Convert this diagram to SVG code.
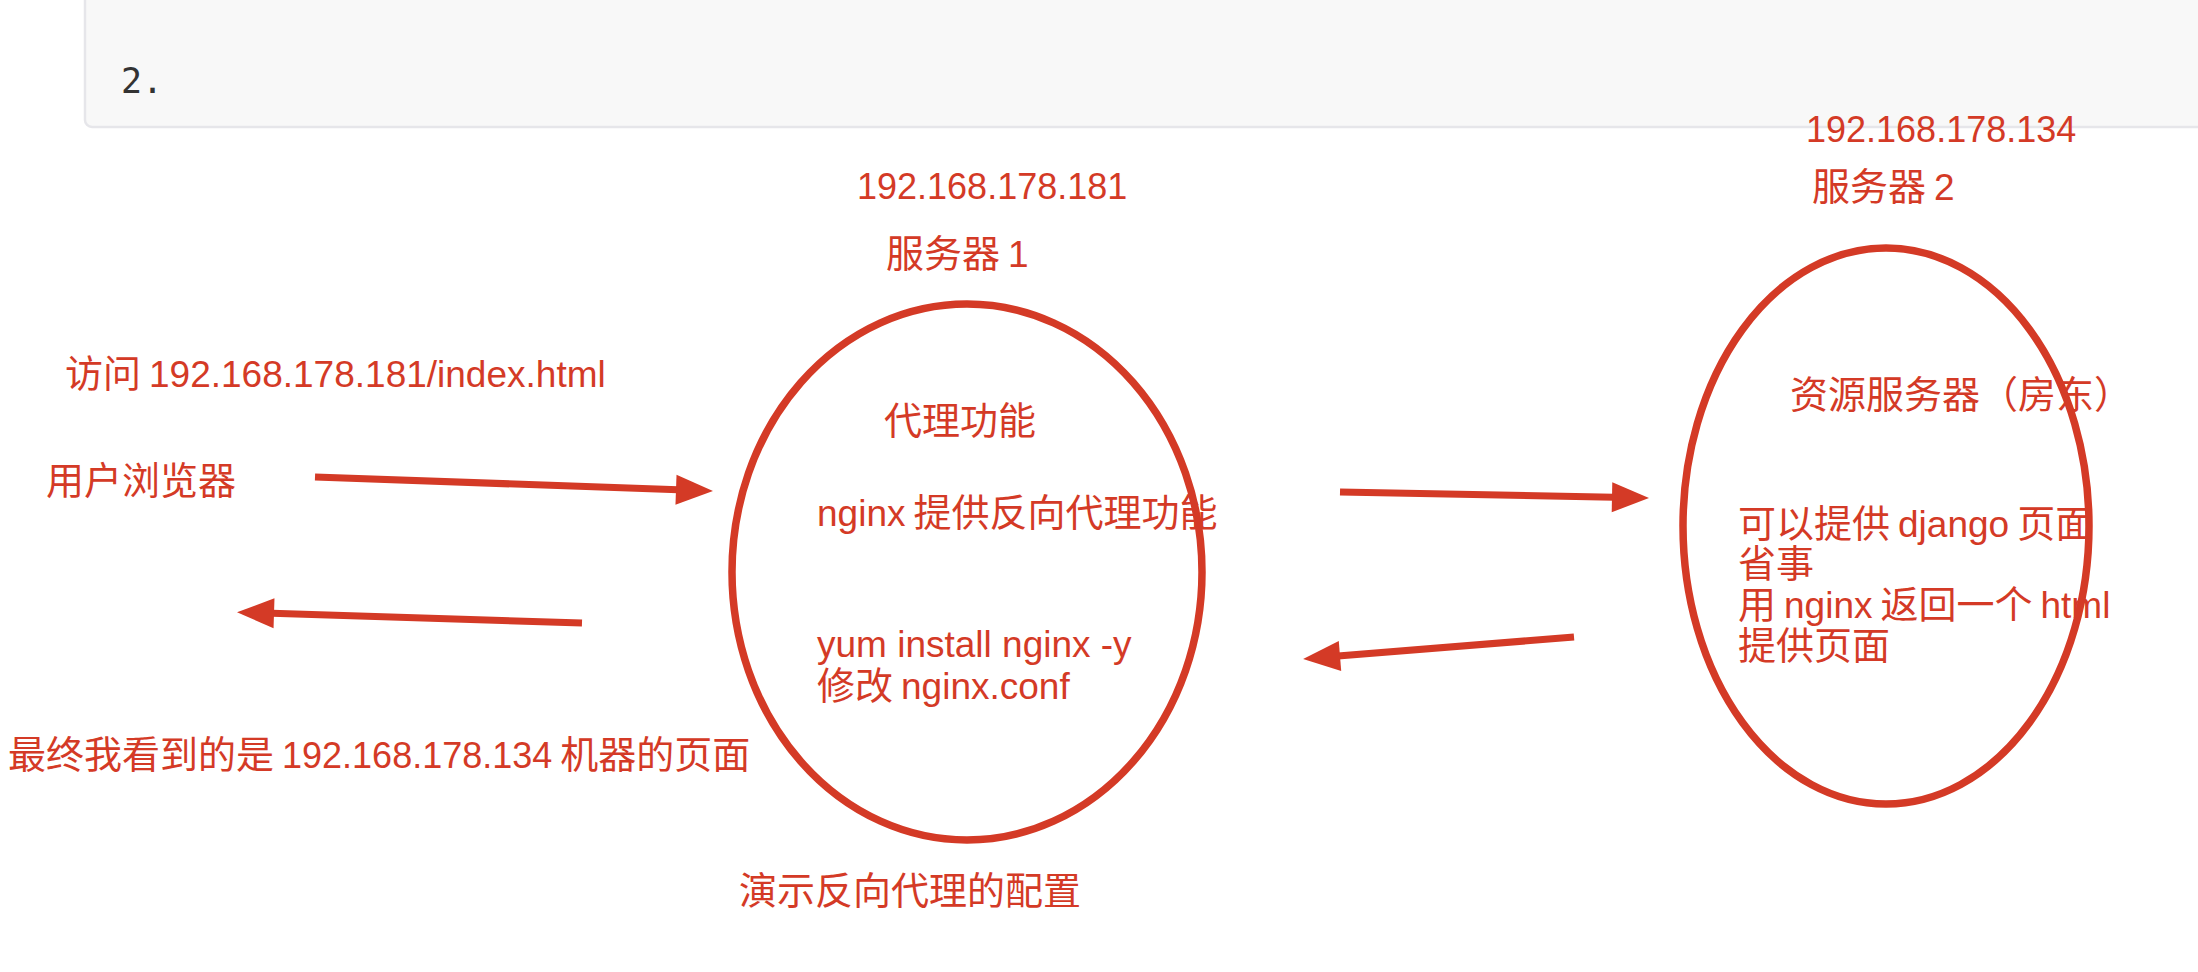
<svg xmlns="http://www.w3.org/2000/svg" width="2198" height="972" viewBox="0 0 2198 972">
  <style>
    .t { font-family: "Liberation Sans", "Noto Sans CJK SC", sans-serif; font-size: 38px; fill: #d43a26; }
    .l { font-size: 37px; }
    .ip { font-size: 36px; }
    .node { fill: none; stroke: #d43a26; stroke-width: 7.5; }
    .edge { fill: none; stroke: #d43a26; stroke-width: 7; }
  </style>
  <defs>
    <marker id="arrow" markerUnits="userSpaceOnUse" markerWidth="38" markerHeight="32" refX="2" refY="16" orient="auto" overflow="visible">
      <path d="M0,1 L37,16 L0,31 Z" fill="#d43a26"/>
    </marker>
  </defs>
  <rect width="2198" height="972" fill="#ffffff"/>
  <g id="panel">
    <rect x="85" y="-20" width="2150" height="147" rx="7" fill="#f8f8f8" stroke="#e6e6ea" stroke-width="2.5"/>
    <text x="121" y="93" font-family="DejaVu Sans Mono, Liberation Mono, monospace" font-size="35" fill="#333333">2.</text>
  </g>
  <g id="server1">
    <ellipse class="node" cx="967" cy="572" rx="235" ry="268"/>
    <text class="t ip" x="857" y="199">192.168.178.181</text>
    <text class="t" x="886" y="267">服务器<tspan class="l" dx="8">1</tspan></text>
    <text class="t" x="884" y="434">代理功能</text>
    <text class="t" x="817" y="526"><tspan class="l">nginx</tspan><tspan dx="8">提供反向代理功能</tspan></text>
    <text class="t l" x="817" y="657">yum install nginx -y</text>
    <text class="t" x="817" y="699">修改<tspan class="l" dx="8">nginx.conf</tspan></text>
    <text class="t" x="739" y="904">演示反向代理的配置</text>
  </g>
  <g id="server2">
    <ellipse class="node" cx="1886" cy="526" rx="203" ry="278"/>
    <text class="t ip" x="1806" y="142">192.168.178.134</text>
    <text class="t" x="1812" y="200">服务器<tspan class="l" dx="8">2</tspan></text>
    <text class="t" x="1790" y="408">资源服务器（房东）</text>
    <text class="t" x="1738" y="537">可以提供<tspan class="l" dx="8">django</tspan><tspan dx="8">页面</tspan></text>
    <text class="t" x="1738" y="577">省事</text>
    <text class="t" x="1738" y="618">用<tspan class="l" dx="8">nginx</tspan><tspan dx="8">返回一个</tspan><tspan class="l" dx="8">html</tspan></text>
    <text class="t" x="1738" y="659">提供页面</text>
  </g>
  <g id="browser">
    <text class="t" x="65" y="387">访问<tspan class="l" dx="8">192.168.178.181/index.html</tspan></text>
    <text class="t" x="46" y="494">用户浏览器</text>
    <text class="t" x="8" y="768">最终我看到的是<tspan class="ip" dx="8">192.168.178.134</tspan><tspan dx="8">机器的页面</tspan></text>
  </g>
  <g id="connectors">
    <line class="edge" x1="315" y1="477" x2="678" y2="489.8" marker-end="url(#arrow)"/>
    <line class="edge" x1="582" y1="623" x2="272" y2="613.3" marker-end="url(#arrow)"/>
    <line class="edge" x1="1340" y1="492" x2="1614" y2="497.3" marker-end="url(#arrow)"/>
    <line class="edge" x1="1574" y1="637" x2="1338" y2="656.1" marker-end="url(#arrow)"/>
  </g>
</svg>
